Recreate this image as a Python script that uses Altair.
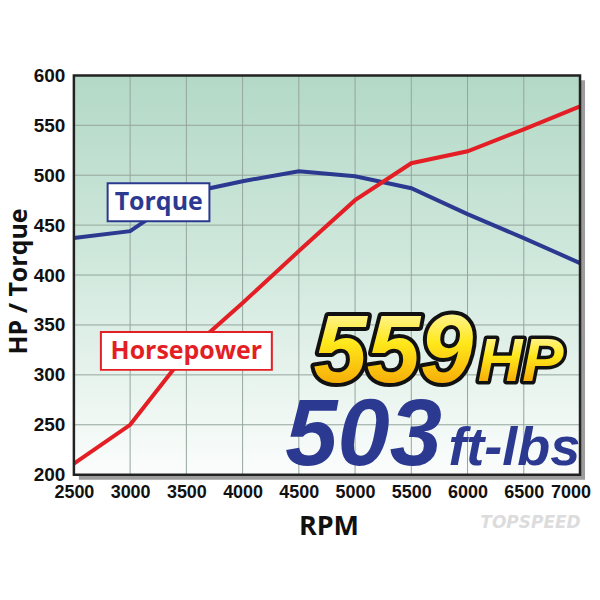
import altair as alt
import pandas as pd

# ---- data ----
rpm = [2500, 3000, 3500, 4000, 4500, 5000, 5500, 6000, 6500, 7000]
torque = [437, 444, 482, 494, 504, 499, 487, 461, 437, 412]
horsepower = [211, 250, 322, 372, 424, 475, 512, 524, 546, 569]
x_ticks = [2500, 3000, 3500, 4000, 4500, 5000, 5500, 6000, 6500, 7000]
y_ticks = [200, 250, 300, 350, 400, 450, 500, 550, 600]

df = pd.DataFrame({"rpm": rpm, "Torque": torque, "Horsepower": horsepower})
one = pd.DataFrame({"a": [0]})

BLUE = "#2b3990"
RED = "#e31e24"
ARIAL = "Liberation Sans, Arial, sans-serif"
HUMAN = "Open Sans, Noto Sans, sans-serif"

xscale = alt.Scale(domain=[2500, 7000], nice=False, zero=False)
yscale = alt.Scale(domain=[200, 600], nice=False, zero=False)

last_x = x_ticks[-1]

xaxis = alt.Axis(values=x_ticks, format="d", grid=False, domain=False,
                 ticks=False, labelFont=ARIAL, labelFontSize=18,
                 labelFontWeight="bold", labelColor="#111", labelPadding=9,
                 labelFlush=False, labelOverlap=False,
                 labelExpr=f"datum.value == {last_x} ? '' : datum.label",
                 title="RPM",
                 titleFont=HUMAN, titleFontSize=27, titleFontWeight="bold",
                 titleColor="#111", titleX=255, titleY=52,
                 titleBaseline="middle")
yaxis = alt.Axis(values=y_ticks, format="d", grid=False, domain=False,
                 ticks=False, labelFont=ARIAL, labelFontSize=19,
                 labelFontWeight="bold", labelColor="#111", labelPadding=9,
                 labelFlush=False, labelOverlap=False, title="HP / Torque",
                 titleFont=HUMAN, titleFontSize=25, titleFontWeight="bold",
                 titleColor="#111", titleX=-55, titleY=206, titleAngle=-90,
                 titleAlign="center", titleBaseline="middle")


def box(x1, x2, y1, y2, **kw):
    return alt.Chart(one).mark_rect(**kw).encode(
        x=alt.X(datum=x1, type="quantitative", scale=xscale, axis=xaxis),
        x2=alt.datum(x2),
        y=alt.Y(datum=y1, type="quantitative", scale=yscale, axis=yaxis),
        y2=alt.datum(y2),
    )


def label(x, y, text, **kw):
    return alt.Chart(one).mark_text(text=text, **kw).encode(
        x=alt.X(datum=x, type="quantitative", scale=xscale, axis=xaxis),
        y=alt.Y(datum=y, type="quantitative", scale=yscale, axis=yaxis),
    )


shadow = box(2500, 7000, 200, 600, fill="#9c9c9c",
             xOffset=5, x2Offset=5, yOffset=5, y2Offset=5)

bg = box(2500, 7000, 200, 600, fill=alt.Gradient(
    gradient="linear",
    stops=[alt.GradientStop(color="#b3d9c6", offset=0),
           alt.GradientStop(color="#d2e9de", offset=0.5),
           alt.GradientStop(color="#fbfdfc", offset=1)],
    x1=0, x2=0, y1=0, y2=1))

xgrid = alt.Chart(pd.DataFrame({"g": x_ticks})).mark_rule(
    color="#95a59e", strokeWidth=1).encode(
    x=alt.X("g:Q", scale=xscale, axis=xaxis))
ygrid = alt.Chart(pd.DataFrame({"g": y_ticks})).mark_rule(
    color="#95a59e", strokeWidth=1).encode(
    y=alt.Y("g:Q", scale=yscale, axis=yaxis))

tq_line = alt.Chart(df).mark_line(color=BLUE, strokeWidth=4).encode(
    x=alt.X("rpm:Q", scale=xscale, axis=xaxis),
    y=alt.Y("Torque:Q", scale=yscale, axis=yaxis))
hp_line = alt.Chart(df).mark_line(color=RED, strokeWidth=4).encode(
    x=alt.X("rpm:Q", scale=xscale, axis=xaxis),
    y=alt.Y("Horsepower:Q", scale=yscale, axis=yaxis))

frame = box(2500, 7000, 200, 600, fill="transparent",
            stroke="#222222", strokeWidth=2.5)

# last x tick label, nudged left so it stays inside the page
last_lbl = label(last_x, 200, str(last_x), font=ARIAL, fontSize=18,
                 fontWeight="bold", fill="#111", align="center",
                 baseline="top", dx=-9, dy=9)

tq_box = box(2800, 3705, 454, 492, fill="white", stroke=BLUE, strokeWidth=2)
tq_text = label(3254, 473, "Torque", font=HUMAN, fontSize=25,
                fontWeight="bold", color=BLUE, align="center",
                baseline="middle")
hp_box = box(2740, 4260, 305, 343, fill="white", stroke=RED, strokeWidth=2)
hp_text = label(3500, 324, "Horsepower", font=HUMAN, fontSize=25,
                fontWeight="bold", color=RED, align="center",
                baseline="middle")

gold = alt.Gradient(gradient="linear",
                    stops=[alt.GradientStop(color="#fffbd8", offset=0),
                           alt.GradientStop(color="#ffe81a", offset=0.45),
                           alt.GradientStop(color="#f39200", offset=1)],
                    x1=0, x2=0, y1=0, y2=1)

big_kw = dict(font=ARIAL, fontStyle="italic", fontWeight="bold",
              align="left", baseline="alphabetic")

hp559_s = label(4630, 293, "559", fontSize=96, fill="#111", stroke="#111",
                strokeWidth=8, strokeJoin="round", **big_kw)
hp559_f = label(4630, 293, "559", fontSize=96, fill=gold, **big_kw)
hpu_s = label(6090, 294, "HP", fontSize=62, fill="#111", stroke="#111",
              strokeWidth=7, strokeJoin="round", **big_kw)
hpu_f = label(6090, 294, "HP", fontSize=62, fill=gold, **big_kw)
tq503 = label(4380, 210, "503", fontSize=94, fill=BLUE, **big_kw)
tqu = label(5830, 210, "ft-lbs", fontSize=54, fill=BLUE, **big_kw)

wm = label(6560, 152, "TOPSPEED", font="DejaVu Sans", fontSize=17,
           fontStyle="italic", fontWeight="bold", fill="#dcdcdc",
           align="center", baseline="middle")

chart = alt.layer(
    shadow, bg, xgrid, ygrid, tq_line, hp_line, frame, last_lbl,
    tq_box, tq_text, hp_box, hp_text,
    hp559_s, hp559_f, hpu_s, hpu_f, tq503, tqu, wm,
).properties(
    width=507, height=400,
    autosize=alt.AutoSizeParams(type="none"),
    padding={"left": 66, "top": 67, "right": 12, "bottom": 110},
).configure_view(stroke=None)

chart.save("out.html", embed_options={"renderer": "svg", "actions": False})
